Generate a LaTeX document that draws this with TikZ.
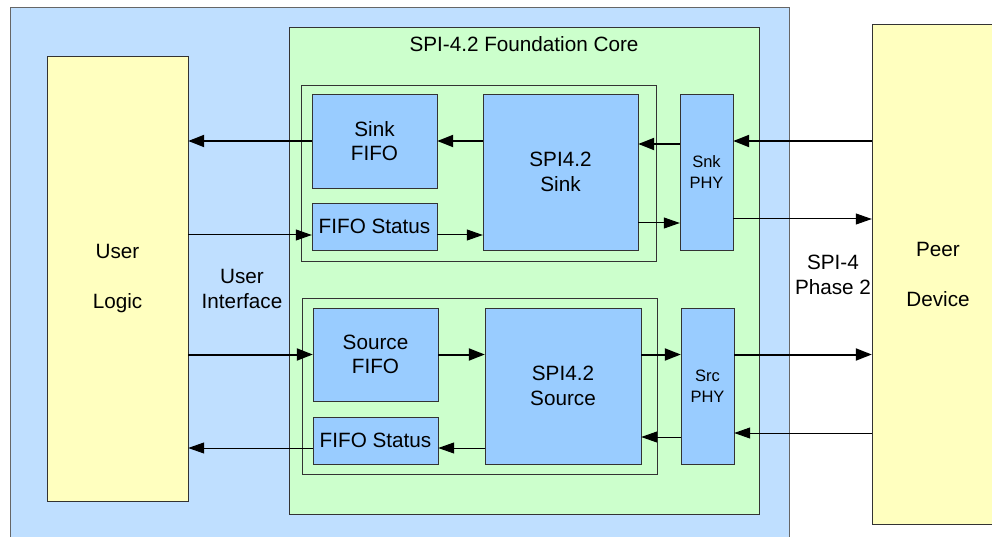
\documentclass[tikz,border=0pt]{standalone}
\usepackage{fontspec}
\setmainfont{Liberation Sans}
\usetikzlibrary{arrows.meta}
\definecolor{boardblue}{HTML}{BFDFFF}
\definecolor{coregreen}{HTML}{CCFFCC}
\definecolor{logicyellow}{HTML}{FFFFBF}
\definecolor{blockblue}{HTML}{99CCFF}
\tikzset{
  txt/.style={font=\fontsize{20.7}{24.5}\selectfont, align=center, inner sep=0pt},
  blk/.style={txt, draw=black!80, fill=blockblue},
  phy/.style={blk, font=\fontsize{16.5}{21}\selectfont, minimum width=53pt, minimum height=156pt},
  grp/.style={draw=black!80, minimum width=355pt, minimum height=176pt, inner sep=0pt},
  ends/.style={txt, draw=black!80, fill=logicyellow, font=\fontsize{20.7}{50}\selectfont},
  thk/.style={-{Triangle[length=16pt,width=12pt]}, line width=2pt},
  thn/.style={-{Triangle[length=16pt,width=11pt]}, line width=1pt}
}
\begin{document}
\begin{tikzpicture}[x=1pt,y=-1pt]
			\useasboundingbox (0,0) rectangle (992,537);
			\clip (0,0) rectangle (992,537);
			% background boxes
			\node[draw=black!60, fill=boardblue, minimum width=779pt, minimum height=545pt, anchor=north west] (board) at (10,7) {};
			\node[draw=black!80, fill=coregreen, minimum width=470pt, minimum height=487pt, anchor=north west] (core) at (289,27) {};
			\node[txt, anchor=base] (title) at (524,52) {SPI-4.2 Foundation Core};
			\node[grp, anchor=north west] (sinkgrp) at (301,85) {};
			\node[grp, anchor=north west] (srcgrp) at (302,298) {};
			% end points
			\node[ends, minimum width=141pt, minimum height=445pt] (user) at (117.5,278.5) {User\\Logic};
			\node[ends, minimum width=132pt, minimum height=500pt] (peer) at (938,274) {Peer\\Device};
			% sink side
			\node[blk, minimum width=125pt, minimum height=94pt] (sinkfifo) at (374.5,141) {Sink\\FIFO};
			\node[blk, minimum width=125pt, minimum height=47pt] (snkstat) at (374.5,226.5) {FIFO Status};
			\node[blk, minimum width=155pt, minimum height=156pt] (sink) at (560.5,172) {SPI4.2\\Sink};
			\node[phy] (snkphy) at (706.5,172) {Snk\\PHY};
			% source side
			\node[blk, minimum width=125pt, minimum height=93pt] (srcfifo) at (375.5,354.5) {Source\\FIFO};
			\node[blk, minimum width=125pt, minimum height=47pt] (srcstat) at (375.5,440.5) {FIFO Status};
			\node[blk, minimum width=156pt, minimum height=156pt] (source) at (563,386) {SPI4.2\\Source};
			\node[phy] (srcphy) at (707.5,386) {Src\\PHY};
			% labels
			\node[txt] (uif) at (242,289) {User\\Interface};
			\node[txt] (spi4) at (833,275) {SPI-4\\Phase 2};
			% signal rows
			\coordinate (ya) at (0,144);
			\coordinate (yb) at (0,223);
			\coordinate (yc) at (0,219);
			\coordinate (yd) at (0,235);
			\coordinate (ye) at (0,433);
			\coordinate (yf) at (0,437);
			\coordinate (yg) at (0,448);
			\draw[thk] (sinkfifo.west) -- (user.east |- sinkfifo.west);
			\draw[thk] (sink.west |- sinkfifo.west) -- (sinkfifo.east);
			\draw[thk] (snkphy.west |- ya) -- (sink.east |- ya);
			\draw[thk] (peer.west |- sinkfifo.west) -- (snkphy.east |- sinkfifo.west);
			\draw[thn] (sink.east |- yb) -- (snkphy.west |- yb);
			\draw[thn] (snkphy.east |- yc) -- (peer.west |- yc);
			\draw[thn] (user.east |- yd) -- (snkstat.west |- yd);
			\draw[thn] (snkstat.east |- yd) -- (sink.west |- yd);
			\draw[thk] (user.east |- srcfifo.west) -- (srcfifo.west);
			\draw[thk] (srcfifo.east) -- (source.west |- srcfifo.east);
			\draw[thk] (source.east |- srcfifo.east) -- (srcphy.west |- srcfifo.east);
			\draw[thk] (srcphy.east |- srcfifo.east) -- (peer.west |- srcfifo.east);
			\draw[thn] (peer.west |- ye) -- (srcphy.east |- ye);
			\draw[thn] (srcphy.west |- yf) -- (source.east |- yf);
			\draw[thn] (source.west |- yg) -- (srcstat.east |- yg);
			\draw[thn] (srcstat.west |- yg) -- (user.east |- yg);
\end{tikzpicture}
\end{document}
